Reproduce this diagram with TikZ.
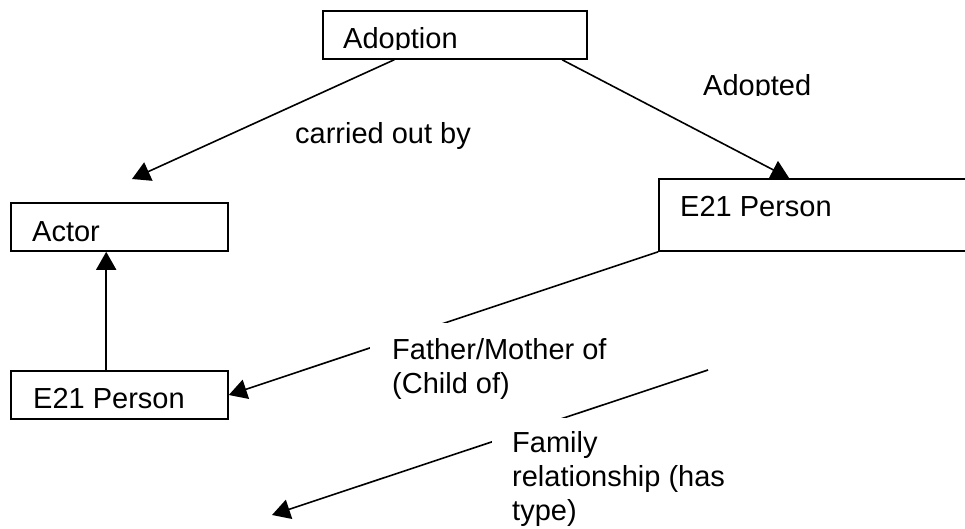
\documentclass[tikz,border=0pt]{standalone}
\usepackage{fontspec}
\setmainfont{Liberation Sans}
\usetikzlibrary{arrows.meta,calc,fit}
\tikzset{>={Triangle[length=18pt,width=20pt]}}

\begin{document}
\begin{tikzpicture}[x=1pt,y=-1pt,
  every node/.style={font=\fontsize{29}{34}\selectfont},
  classbox/.style={draw=black, line width=1.6pt, fill=white, inner sep=0pt},
  boxtext/.style={anchor=base west, inner sep=0pt},
  linktext/.style={anchor=base west, inner sep=0pt, align=left},
  mask/.style={fill=white, inner sep=0pt},
  link/.style={->, black, line width=1.6pt}]

% Zone de dessin : 1 pt = 1 pixel de la figure d'origine, l'axe y vers le bas.
% Drawing area: 1 pt = 1 pixel of the original figure, y axis pointing down.
\useasboundingbox (0,0) rectangle (965,529);

% Les classes
% The classes
\node[classbox, fit={(323,11) (587,59)}] (adoption) {};
\node[classbox, fit={(11,203) (228,251)}] (actor) {};
\node[classbox, fit={(11,371) (228,419)}] (parent) {};
\node[classbox, fit={(659,179) (1000,251)}] (adoptee) {};

% Le texte de la boite du haut est coupe au niveau de la ligne de base.
% The text of the top box is cut at its baseline.
\begin{scope}
  \clip (323,11) rectangle (587,49.5);
  \node[boxtext] (adoptiontext) at (343,49) {Adoption};
\end{scope}
\node[boxtext] (actortext) at (32,241) {Actor};
\node[boxtext] (parenttext) at (33,408) {E21 Person};
\node[boxtext] (adopteetext) at (680,217) {E21 Person};

% Fleches
% Arrows
\coordinate (carriedtip) at (132,179);
\coordinate (familystart) at (708,370);
\coordinate (familytip) at (272,515);
\draw[link] ($(adoption.south west)+(72,0)$) -- (carriedtip);
\draw[link] ($(adoption.south west)+(240,0)$) -- ($(adoptee.north west)+(131,0)$);
\draw[link] ($(parent.north west)+(96,0)$) -- ($(actor.south west)+(96,0)$);
\draw[link] (adoptee.south west) -- (parent.east);
\draw[link] (familystart) -- (familytip);

% Etiquettes des fleches (la ligne de base est celle de la derniere ligne)
% Arrow labels (the base anchor is on the last line)
\node[boxtext] (carriedlabel) at (295,143.3) {carried out by};
\begin{scope}
  \clip (690,60) rectangle (900,95.5);
  \node[boxtext] (adoptedlabel) at (703,95.5) {Adopted};
\end{scope}
\node[mask, fit={(370,323) (612,398)}] (fathermask) {};
\node[mask, fit={(492,418) (745,529)}] (familymask) {};
\node[linktext] (fatherlabel) at (392,393) {Father/Mother of\\(Child of)};
\node[linktext] (familylabel) at (512,520) {Family\\relationship (has\\type)};

\end{tikzpicture}
\end{document}
